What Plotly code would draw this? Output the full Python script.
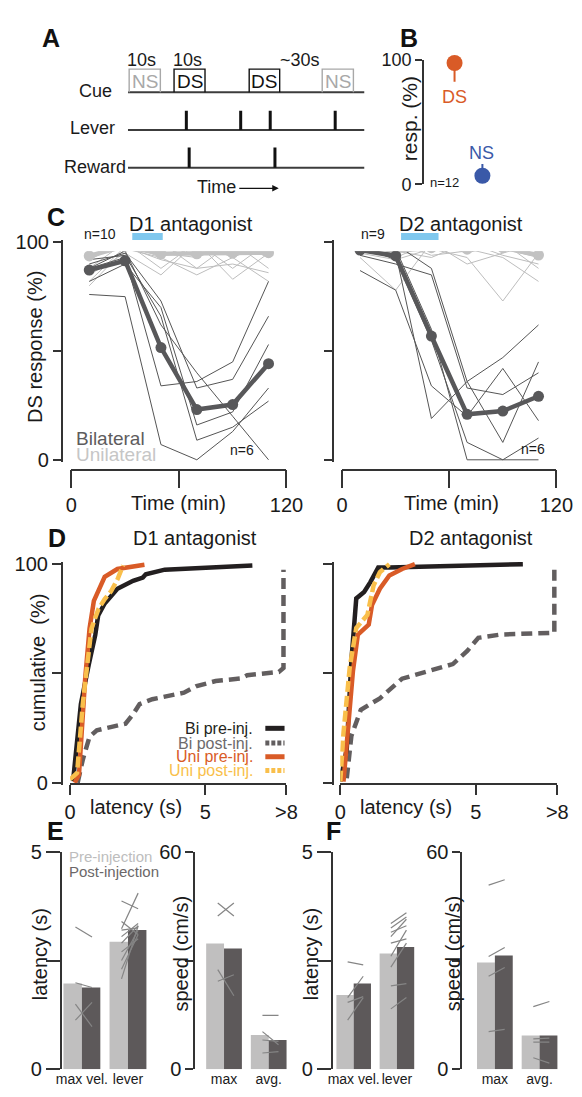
import plotly.graph_objects as go

# ================= DATA =================
# Panel A: task schematic (arbitrary time units along each row)
cue_on = [0.5, 19.5, 51.3, 82.2]
cue_off = [13.7, 32.6, 64.2, 95.4]
cue_type = ["NS", "DS", "DS", "NS"]
lever_times = [24.7, 47.7, 60.2, 87.7]
reward_times = [25.9, 62.2]
row_names = ["Cue", "Lever", "Reward"]
row_levels = [2, 1, 0]

# Panel B
b_cues = ["DS", "NS"]
b_pos = [1, 2]
b_resp = [97.6, 7.0]
b_err_minus = [15.0, 0.0]
b_err_plus = [0.0, 9.5]

# Panel C (DS response %, time in min)
c_times = [10, 30, 50, 70, 90, 110]
d1_infusion = [34, 51]
d2_infusion = [33, 54]
d1_bi_mean = [87.2, 91.5, 51.6, 23.1, 25.4, 44.2]
d1_uni_mean = [93.7, 98.2, 94.7, 94.7, 95.0, 95.2]
d1_bi = [
    [76, 75, 7, 0, 13, 33],
    [88, 93, 34, 36, 45, 82],
    [90, 95, 73, 33, 37, 66],
    [82, 90, 70, 16, 22, 53],
    [92, 94, 66, 9, 15, 27],
    [88, 96, 62, 40, 20, 0],
]
d1_uni = [
    [100, 100, 100, 100, 100, 100],
    [100, 100, 93, 100, 93, 100],
    [96, 100, 100, 88, 100, 93],
    [92, 100, 88, 100, 88, 100],
    [88, 100, 100, 93, 100, 88],
    [85, 95, 85, 100, 83, 95],
    [80, 97, 93, 85, 93, 82],
    [100, 100, 95, 93, 100, 97],
    [93, 100, 100, 100, 94, 100],
    [82, 98, 92, 88, 90, 86],
]
d2_bi_mean = [96.4, 93.7, 56.9, 20.9, 22.4, 29.2]
d2_uni_mean = [98.0, 96.1, 97.5, 96.8, 97.5, 94.1]
d2_bi = [
    [98, 99, 88, 36, 47, 62],
    [94, 90, 85, 33, 30, 40],
    [87, 78, 34, 20, 42, 18],
    [96, 95, 19, 36, 8, 45],
    [99, 97, 60, 0, 0, 0],
    [98, 92, 55, 8, 0, 10],
]
d2_uni = [
    [100, 100, 100, 100, 100, 100],
    [100, 100, 96, 100, 96, 100],
    [97, 100, 100, 95, 100, 88],
    [95, 92, 97, 93, 73, 95],
    [93, 78, 100, 97, 93, 82],
    [100, 96, 93, 100, 97, 93],
    [98, 100, 94, 96, 100, 97],
    [96, 93, 100, 90, 95, 100],
    [100, 100, 97, 100, 94, 90],
]

# Panel D (cumulative %, latency s)
d1_bi_pre_x = [0.11, 0.40, 0.69, 0.93, 1.04, 1.28, 1.75, 2.33, 2.69, 2.80, 3.50, 4.68, 6.74]
d1_bi_pre_y = [0.7, 36, 54, 67.5, 76.5, 82, 88.7, 92.4, 93.9, 95.4, 97.5, 98.2, 99.4]
d1_bi_post_x = [0.28, 0.47, 0.72, 0.99, 2.05, 2.34, 2.57, 3.04, 4.21, 4.68, 5.38, 6.32, 6.55, 7.72, 7.89, 7.89]
d1_bi_post_y = [0, 10.5, 21, 24, 27, 31.5, 36, 38.2, 41.2, 44.2, 46.5, 47.7, 49.2, 50.7, 52.5, 97.5]
d1_uni_pre_x = [0.17, 0.33, 0.56, 0.72, 0.88, 1.28, 1.75, 2.75]
d1_uni_pre_y = [0, 3.7, 48, 70.5, 83.2, 94.2, 97.8, 99.7]
d1_uni_post_x = [0.0, 0.26, 0.47, 0.64, 0.79, 1.05, 1.28, 1.52, 1.75, 1.96]
d1_uni_post_y = [1.5, 4.5, 36, 55.5, 70.5, 79.5, 84, 87.7, 93, 99.5]

d2_bi_pre_x = [0.0, 0.24, 0.41, 0.59, 0.88, 1.11, 1.40, 1.81, 6.73]
d2_bi_pre_y = [0.5, 15.4, 55.8, 84.3, 87.3, 91.8, 98.5, 98.5, 100]
d2_bi_post_x = [0.24, 0.41, 0.76, 1.46, 2.28, 3.33, 4.15, 4.68, 5.09, 5.91, 7.89, 7.89]
d2_bi_post_y = [2, 21.4, 33.4, 38.6, 47.6, 51.3, 54.3, 60.3, 66.3, 67.8, 68.6, 100]
d2_uni_pre_x = [0.12, 0.29, 0.47, 0.65, 1.05, 1.17, 1.46, 1.81, 2.28, 2.75]
d2_uni_pre_y = [0.5, 24.4, 51.3, 67.8, 72.3, 81.3, 88.8, 94.8, 97.8, 100]
d2_uni_post_x = [0.0, 0.12, 0.35, 0.59, 1.0, 1.23, 1.46, 1.81]
d2_uni_post_y = [0.5, 22.9, 52.8, 70.8, 76.8, 90.3, 96.3, 100]

# Panels E / F
lat_cats = ["max vel.", "lever"]
spd_cats = ["max", "avg."]
e_lat_pre = [1.97, 2.93]
e_lat_post = [1.88, 3.20]
e_lat_ind_pre = [[3.27, 1.99, 1.13, 1.50],
                 [2.08, 3.23, 3.87, 2.3, 2.5, 2.7, 2.9, 3.05, 3.2, 3.4]]
e_lat_ind_post = [[3.04, 1.88, 1.54, 0.98],
                  [3.3, 4.05, 3.69, 3.1, 3.2, 3.0, 3.3, 3.35, 3.25, 3.1]]
e_spd_pre = [34.7, 9.5]
e_spd_post = [33.3, 8.1]
e_spd_ind_pre = [[42.3, 45.9, 24.3, 27.5], [14.9, 10.4, 8.1, 4.5]]
e_spd_ind_post = [[45.9, 42.3, 26.1, 20.3], [14.9, 6.8, 7.7, 4.9]]

f_lat_pre = [1.71, 2.66]
f_lat_post = [1.97, 2.81]
f_lat_ind_pre = [[2.47, 1.65, 1.54, 1.13],
                 [3.35, 3.25, 3.15, 3.05, 2.9, 2.6, 2.35, 1.92, 1.39]]
f_lat_ind_post = [[2.40, 2.14, 1.67, 1.65],
                  [3.6, 3.5, 3.3, 3.45, 3.0, 3.2, 2.9, 1.97, 1.65]]
f_spd_pre = [29.5, 9.3]
f_spd_post = [31.4, 9.3]
f_spd_ind_pre = [[50.8, 31.1, 25.7, 10.4], [17.3, 8.4, 7.5, 3.2]]
f_spd_ind_post = [[52.3, 33.6, 28.1, 11.0], [18.7, 8.6, 7.5, 1.7]]

# ================= STYLE / LAYOUT HELPERS =================
W, H = 582, 1097
FONT = "Liberation Sans, Arial, Helvetica, sans-serif"
AX = "#333333"
C_BI = "#58585A"
C_UNI = "#C2C2C2"
C_BI_THIN = "#555555"
C_UNI_THIN = "#BDBDBD"
C_BLACK = "#231F20"
C_GRAYD = "#625E5F"
C_ORANGE = "#D95B27"
C_YELLOW = "#F9BF4B"
C_BLUE = "#3A59A8"
C_INF = "#80C8EE"
C_PRE = "#C0BFBF"
C_POST = "#5D595A"
C_IND = "#858585"


def fx(p):
    return p / W


def fy(p):
    return 1 - p / H


def dom_x(px0, px1, v0, v1, r0, r1):
    s = (px1 - px0) / (v1 - v0)
    return [fx(px0 + (r0 - v0) * s), fx(px0 + (r1 - v0) * s)]


def dom_y(py_lo, py_hi, v_lo, v_hi, r0, r1):
    s = (py_lo - py_hi) / (v_hi - v_lo)
    return [fy(py_lo + (v_lo - r0) * s), fy(py_lo - (r1 - v_lo) * s)]


fig = go.Figure()


def segs(x0s, x1s, y0s, y1s):
    xs, ys = [], []
    for a, b, c, d in zip(x0s, x1s, y0s, y1s):
        xs += [a, b, None]
        ys += [c, d, None]
    return xs, ys


def multi(xvals, rows):
    xs, ys = [], []
    for r in rows:
        xs += list(xvals) + [None]
        ys += list(r) + [None]
    return xs, ys


# ---------- Panel A ----------
bx, by = [], []
for lv in row_levels:
    bx += [0, 100, None]
    by += [lv, lv, None]
fig.add_trace(go.Scatter(x=bx, y=by, mode="lines", line=dict(color="#3C3C3C", width=2),
                         xaxis="x", yaxis="y", hoverinfo="skip"))
BOX_H = 0.615
for on, off, typ in zip(cue_on, cue_off, cue_type):
    col = "#A8A8A8" if typ == "NS" else "#111111"
    fig.add_trace(go.Scatter(x=[on, on, off, off], y=[2, 2 + BOX_H, 2 + BOX_H, 2], mode="lines",
                             line=dict(color=col, width=1.4), xaxis="x", yaxis="y", hoverinfo="skip"))
    fig.add_annotation(x=(on + off) / 2, y=2 + BOX_H / 2 - 0.02, xref="x", yref="y", text=typ,
                       showarrow=False, font=dict(size=19, color=col, family=FONT))
lx, ly = segs(lever_times, lever_times, [1] * len(lever_times), [1.51] * len(lever_times))
fig.add_trace(go.Scatter(x=lx, y=ly, mode="lines", line=dict(color="#111111", width=3),
                         xaxis="x", yaxis="y", hoverinfo="skip"))
rx, ry = segs(reward_times, reward_times, [0] * len(reward_times), [0.54] * len(reward_times))
fig.add_trace(go.Scatter(x=rx, y=ry, mode="lines", line=dict(color="#111111", width=3),
                         xaxis="x", yaxis="y", hoverinfo="skip"))

# ---------- Panel B ----------
for pos, resp, em, ep, lab, col in zip(b_pos, b_resp, b_err_minus, b_err_plus, b_cues, [C_ORANGE, C_BLUE]):
    fig.add_trace(go.Scatter(x=[pos], y=[resp], mode="markers", cliponaxis=False,
                             marker=dict(size=16, color=col),
                             error_y=dict(type="data", symmetric=False, array=[ep], arrayminus=[em],
                                          color=col, thickness=2, width=0),
                             xaxis="x2", yaxis="y2", hoverinfo="skip"))


# ---------- Panel C ----------
def panel_c(xa, ya, bi, uni, bi_mean, uni_mean, infusion):
    ux, uy = multi(c_times, uni)
    fig.add_trace(go.Scatter(x=ux, y=uy, mode="lines", line=dict(color=C_UNI_THIN, width=1),
                             xaxis=xa, yaxis=ya, hoverinfo="skip"))
    bx_, by_ = multi(c_times, bi)
    fig.add_trace(go.Scatter(x=bx_, y=by_, mode="lines", line=dict(color=C_BI_THIN, width=1),
                             xaxis=xa, yaxis=ya, hoverinfo="skip"))
    fig.add_trace(go.Scatter(x=c_times, y=uni_mean, mode="lines+markers", cliponaxis=False,
                             line=dict(color=C_UNI, width=4.5), marker=dict(size=11, color=C_UNI),
                             xaxis=xa, yaxis=ya, hoverinfo="skip"))
    fig.add_trace(go.Scatter(x=c_times, y=bi_mean, mode="lines+markers", cliponaxis=False,
                             line=dict(color=C_BI, width=4.5), marker=dict(size=11, color=C_BI),
                             xaxis=xa, yaxis=ya, hoverinfo="skip"))
    fig.add_trace(go.Scatter(x=infusion, y=[0.5, 0.5], mode="lines", line=dict(color=C_INF, width=7),
                             xaxis=xa, yaxis="y11", hoverinfo="skip"))


panel_c("x3", "y3", d1_bi, d1_uni, d1_bi_mean, d1_uni_mean, d1_infusion)
panel_c("x4", "y4", d2_bi, d2_uni, d2_bi_mean, d2_uni_mean, d2_infusion)


# ---------- Panel D ----------
def panel_d(xa, ya, bpx, bpy, bqx, bqy, upx, upy, uqx, uqy):
    fig.add_trace(go.Scatter(x=bqx, y=bqy, mode="lines", line=dict(color=C_GRAYD, width=4.5, dash="11px,6px"),
                             xaxis=xa, yaxis=ya, hoverinfo="skip"))
    fig.add_trace(go.Scatter(x=bpx, y=bpy, mode="lines", line=dict(color=C_BLACK, width=4.5),
                             xaxis=xa, yaxis=ya, hoverinfo="skip"))
    fig.add_trace(go.Scatter(x=upx, y=upy, mode="lines", line=dict(color=C_ORANGE, width=4.5),
                             xaxis=xa, yaxis=ya, hoverinfo="skip"))
    fig.add_trace(go.Scatter(x=uqx, y=uqy, mode="lines", line=dict(color=C_YELLOW, width=4.5, dash="11px,4px"),
                             xaxis=xa, yaxis=ya, hoverinfo="skip"))


panel_d("x5", "y5", d1_bi_pre_x, d1_bi_pre_y, d1_bi_post_x, d1_bi_post_y,
        d1_uni_pre_x, d1_uni_pre_y, d1_uni_post_x, d1_uni_post_y)
panel_d("x6", "y6", d2_bi_pre_x, d2_bi_pre_y, d2_bi_post_x, d2_bi_post_y,
        d2_uni_pre_x, d2_uni_pre_y, d2_uni_post_x, d2_uni_post_y)


# ---------- Panels E / F ----------
def panel_bar(xa, ya, pre, post, ind_pre, ind_post):
    cats = list(range(len(pre)))
    fig.add_trace(go.Bar(x=cats, y=pre, width=0.4, offset=-0.4, marker=dict(color=C_PRE, line=dict(width=0)),
                         xaxis=xa, yaxis=ya, hoverinfo="skip"))
    fig.add_trace(go.Bar(x=cats, y=post, width=0.4, offset=0.0, marker=dict(color=C_POST, line=dict(width=0)),
                         xaxis=xa, yaxis=ya, hoverinfo="skip"))
    xs, ys = [], []
    for c, pr, po in zip(cats, ind_pre, ind_post):
        for a, b in zip(pr, po):
            xs += [c - 0.14, c + 0.22, None]
            ys += [a, b, None]
    fig.add_trace(go.Scatter(x=xs, y=ys, mode="lines", line=dict(color=C_IND, width=1.2),
                             xaxis=xa, yaxis=ya, hoverinfo="skip"))


panel_bar("x7", "y7", e_lat_pre, e_lat_post, e_lat_ind_pre, e_lat_ind_post)
panel_bar("x8", "y8", e_spd_pre, e_spd_post, e_spd_ind_pre, e_spd_ind_post)
panel_bar("x9", "y9", f_lat_pre, f_lat_post, f_lat_ind_pre, f_lat_ind_post)
panel_bar("x10", "y10", f_spd_pre, f_spd_post, f_spd_ind_pre, f_spd_ind_post)

# ================= AXES =================
base = dict(showgrid=False, zeroline=False, linecolor=AX, linewidth=1.5, tickcolor=AX, tickwidth=1.5,
            tickfont=dict(size=20, color="#1a1a1a", family=FONT), fixedrange=True)
hidden = dict(visible=False, showgrid=False, zeroline=False, fixedrange=True)

lay = {}
# A
lay["xaxis"] = dict(hidden, domain=dom_x(127, 373, 0, 100, -2, 102), range=[-2, 102], anchor="y")
lay["yaxis"] = dict(hidden, domain=dom_y(160, 83, 0, 2, -0.6, 3.0), range=[-0.6, 3.0], anchor="x")
# B
lay["xaxis2"] = dict(hidden, domain=[fx(435), fx(580)], range=[1 - 32 / 29, 2 + 84 / 29], anchor="y2")
lay["yaxis2"] = dict(base, domain=[fy(177), fy(50)], range=[0, 100], anchor="x2", showline=True,
                     ticks="outside", ticklen=7, tickvals=[0, 100], ticktext=["0", "100"],
                     tickfont=dict(size=18, color="#1a1a1a", family=FONT))
# C
for i, (x0, x1, ypos, ttext) in zip([3, 4], [(68, 292, 58, ["0", "", "100"]), (350, 573, 340, ["", "", ""])]):
    lay[f"xaxis{i}"] = dict(base, domain=[fx(x0), fx(x1)], range=[0, 120], anchor="free", position=fy(468),
                            showline=True, ticks="outside", ticklen=18, tickvals=[0, 60, 120],
                            ticktext=["0", "", "120"], tickangle=0)
    lay[f"yaxis{i}"] = dict(base, domain=dom_y(458, 236, 0, 100, -1, 101), range=[-1, 101], anchor="free",
                            position=fx(ypos), showline=True, ticks="outside", ticklen=8,
                            tickvals=[0, 50, 100], ticktext=ttext)
lay["yaxis11"] = dict(hidden, domain=[fy(245), fy(215)], range=[0, 1], anchor="free", position=0)
# D
for i, (x0, x1, ypos, ttext) in zip([5, 6], [(66.7, 292, 58, ["0", "", "100"]), (348, 574, 340, ["", "", ""])]):
    lay[f"xaxis{i}"] = dict(base, domain=[fx(x0), fx(x1)], range=[0, 8], anchor="free", position=fy(789),
                            showline=True, ticks="outside", ticklen=10, tickvals=[0, 5, 8],
                            ticktext=["0", "5", ">8"], tickangle=0)
    lay[f"yaxis{i}"] = dict(base, domain=dom_y(787.5, 564.5, 0, 100, -1, 101), range=[-1, 101],
                            anchor="free", position=fx(ypos), showline=True, ticks="outside", ticklen=9,
                            tickvals=[0, 50, 100], ticktext=ttext)
# E / F
bar_specs = [
    (7, 58, 150, 79, 48, lat_cats, 5, 14, ["0", "", "5"]),
    (8, 197, 295, 227, 46.5, spd_cats, 60, 8, ["0", "", "60"]),
    (9, 340, 432, 362, 45, lat_cats, 5, 14, ["0", "", "5"]),
    (10, 475, 580, 509, 46.5, spd_cats, 60, 8, ["0", "", "60"]),
]
for i, x0, x1, c0, s, cats, ymax, tl, tt in bar_specs:
    lay[f"xaxis{i}"] = dict(base, domain=[fx(x0), fx(x1)], range=[-(c0 - x0) / s, (x1 - c0) / s],
                            anchor=f"y{i}", showline=False, ticks="", tickvals=[0, 1], ticktext=cats,
                            tickangle=0, tickfont=dict(size=14, color="#1a1a1a", family=FONT))
    lay[f"yaxis{i}"] = dict(base, domain=[fy(1080), fy(858)], range=[0, ymax], anchor=f"x{i}",
                            showline=True, ticks="outside", ticklen=tl,
                            tickvals=[0, ymax / 2, ymax], ticktext=tt)

fig.update_layout(**lay)


# ================= TEXT =================
def txt(x, y, s, size=20, color="#1a1a1a", xanchor="center", angle=0):
    fig.add_annotation(x=fx(x), y=fy(y), xref="paper", yref="paper", text=s, showarrow=False,
                       font=dict(size=size, color=color, family=FONT), xanchor=xanchor,
                       yanchor="middle", textangle=angle)


# panel letters
for lab, x, y in [("A", 47, 28), ("B", 420, 28), ("C", 52, 210), ("D", 53, 538), ("E", 52, 837), ("F", 341, 837)]:
    txt(x, y, f"<b>{lab}</b>", size=25, color="#111111")

# A labels
txt(112, 82, row_names[0], size=18, xanchor="right")
txt(116, 119, row_names[1], size=18, xanchor="right")
txt(127, 159, row_names[2], size=18, xanchor="right")
txt(141, 50, "10s", size=18)
txt(189, 50, "10s", size=18)
txt(306, 50, "~30s", size=18)
txt(219, 180, "Time", size=18)
fig.add_annotation(x=fx(284), y=fy(181), xref="paper", yref="paper", ax=-41, ay=0, text="",
                   showarrow=True, arrowhead=2, arrowsize=1, arrowwidth=1.3, arrowcolor="#111111")

# B labels
txt(467, 88, b_cues[0], size=18, color=C_ORANGE)
txt(495, 145, b_cues[1], size=18, color=C_BLUE)
txt(457, 175, "n=12", size=13)
txt(420, 110, "resp. (%)", size=21, angle=-90)

# C labels
txt(193, 217, "D1 antagonist", size=20)
txt(474, 217, "D2 antagonist", size=20)
txt(98, 228, "n=10", size=14)
txt(382, 228, "n=9", size=14)
txt(246, 448, "n=6", size=14)
txt(549, 447, "n=6", size=14)
txt(71, 436, "Bilateral", size=19, color="#5E5C5D", xanchor="left")
txt(71, 453, "Unilateral", size=19, color="#C6C6C6", xanchor="left")
txt(30, 343, "DS response (%)", size=20, angle=-90)
txt(180, 502, "Time (min)", size=20)
txt(464, 502, "Time (min)", size=20)

# D labels
txt(197, 538, "D1 antagonist", size=20)
txt(484, 538, "D2 antagonist", size=20)
txt(33, 665, "cumulative\u00a0 (%)", size=20, angle=-90)
txt(135, 812, "latency (s)", size=20)
txt(416, 812, "latency (s)", size=20)
legend_rows = [("Bi pre-inj.", C_BLACK, C_BLACK, "solid", 732), ("Bi post-inj.", "#6D6A6B", C_GRAYD, "4px,2px", 747),
               ("Uni pre-inj.", C_ORANGE, C_ORANGE, "solid", 761), ("Uni post-inj.", C_YELLOW, C_YELLOW, "4px,2px", 775)]
shapes = []
for lab, tcol, lcol, dash, yy in legend_rows:
    txt(259, yy, lab, size=16, color=tcol, xanchor="right")
    shapes.append(dict(type="line", xref="paper", yref="paper", x0=fx(270), x1=fx(290), y0=fy(yy), y1=fy(yy),
                       line=dict(color=lcol, width=5, dash=dash)))

# E / F labels
txt(63, 863, "Pre-injection", size=15, color="#BDBDBD", xanchor="left")
txt(63, 878, "Post-injection", size=15, color="#6B6768", xanchor="left")
txt(35, 963, "latency (s)", size=20, angle=-90)
txt(182, 962, "speed (cm/s)", size=20, angle=-90)
txt(317, 962, "latency (s)", size=20, angle=-90)
txt(465, 962, "speed (cm/s)", size=20, angle=-90)

fig.update_layout(
    width=W, height=H, margin=dict(l=0, r=0, t=0, b=0), autosize=False,
    paper_bgcolor="white", plot_bgcolor="white", showlegend=False,
    font=dict(family=FONT, color="#1a1a1a"), shapes=shapes, barmode="overlay",
)

fig.write_html("out.html")
